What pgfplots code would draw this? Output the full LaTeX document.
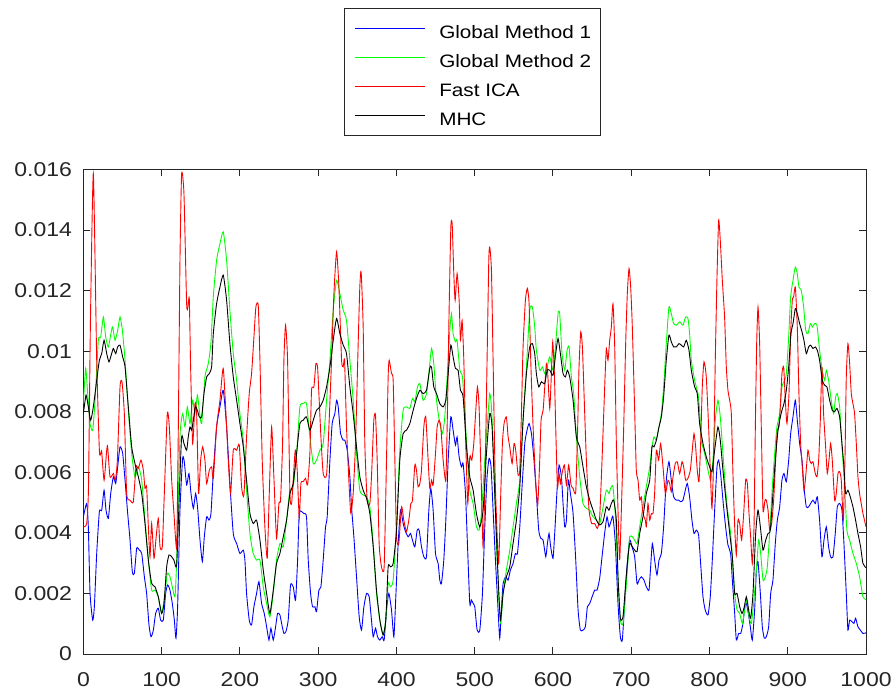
\documentclass[border=0pt]{standalone}
\usepackage{pgfplots}
\pgfplotsset{compat=1.18}
\usepackage{fontspec}
\setmainfont{Liberation Sans}[FakeStretch=1.15]
\definecolor{axgray}{RGB}{38,38,38}
\begin{document}
\begin{tikzpicture}
\begin{axis}[name=ax, scale only axis, width=782.6bp, height=484.5bp,
  xmin=0, xmax=1000, ymin=0, ymax=0.016,
  xtick={0,100,200,300,400,500,600,700,800,900,1000},
  xticklabels={0,100,200,300,400,500,600,700,800,900,1000},
  ytick={0,0.002,0.004,0.006,0.008,0.010,0.012,0.014,0.016},
  yticklabels={0,0.002,0.004,0.006,0.008,0.01,0.012,0.014,0.016},
  scaled y ticks=false,
  tick align=inside, xtick pos=both, ytick pos=both,
  major tick length=7bp,
  axis line style={axgray, line width=1bp},
  every tick/.style={axgray, line width=1bp},
  tick label style={font=\fontsize{20bp}{24bp}\selectfont, text=axgray},
  /pgf/number format/assume math mode=true,
  yticklabel style={xshift=-8bp},
  xticklabel style={yshift=-15bp},
  legend cell align=left,
  legend image code/.code={\draw[#1,line width=1.4bp] (0bp,0bp) -- (70bp,0bp);},
  legend style={at={(0.4972,1.3327)}, anchor=north, draw=axgray, line width=0.8bp,
    font=\fontsize{18bp}{20bp}\selectfont, inner xsep=9bp, inner ysep=5.5bp,
    row sep=0bp, column sep=14bp,
    nodes={inner sep=0pt, text height=24.5bp, text depth=4.5bp}},
  every axis plot/.append style={line width=0.9bp, smooth, tension=0.35},
]
\addplot[color=blue] coordinates {
(0,0.00453)(4.2,0.00497)(6.3,0.00420)(8.5,0.00200)(11.9,0.00112)(14.0,0.00156)(17.0,0.00332)(20.4,0.00470)(23.4,0.00475)(26.4,0.00541)(28.9,0.00475)(31.9,0.00448)(34.9,0.00530)(38.3,0.00585)(41.3,0.00563)(43.8,0.00618)(46.8,0.00684)(50.2,0.00662)(53.2,0.00574)(56.6,0.00464)(59.6,0.00376)(62.5,0.00272)(65.1,0.00266)(68.1,0.00349)(71.5,0.00343)(74.5,0.00332)(77.9,0.00255)(80.8,0.00200)(83.8,0.00096)(86.4,0.00057)(89.4,0.00079)(92.3,0.00134)(95.7,0.00151)(98.7,0.00112)(102.1,0.00112)(105.1,0.00200)(107.7,0.00228)(110.6,0.00211)(113.6,0.00167)(116.2,0.00112)(118.3,0.00052)(120.4,0.00156)(123.4,0.00475)(126.8,0.00646)(128.9,0.00635)(131.9,0.00558)(134.9,0.00596)(137.5,0.00530)(140.5,0.00481)(143.4,0.00530)(146.0,0.00481)(149.0,0.00376)(152.0,0.00305)(154.5,0.00387)(157.5,0.00453)(160.5,0.00442)(163.0,0.00464)(166.0,0.00600)(170.2,0.00750)(174.5,0.00816)(178.7,0.00871)(183.0,0.00750)(187.2,0.00563)(191.5,0.00398)(195.8,0.00365)(200.0,0.00332)(204.3,0.00343)(206.4,0.00310)(208.5,0.00200)(211.9,0.00112)(214.9,0.00096)(217.9,0.00156)(221.3,0.00200)(224.3,0.00239)(227.7,0.00167)(231.1,0.00134)(234.1,0.00090)(237.1,0.00046)(239.6,0.00085)(242.6,0.00046)(245.6,0.00090)(248.1,0.00134)(251.1,0.00129)(254.1,0.00090)(256.2,0.00068)(258.8,0.00074)(261.7,0.00112)(264.7,0.00228)(268.1,0.00222)(271.1,0.00178)(273.7,0.00310)(275.8,0.00464)(278.8,0.00470)(281.7,0.00464)(285.1,0.00453)(287.3,0.00310)(290.3,0.00200)(292.8,0.00156)(295.8,0.00156)(297.9,0.00140)(300.9,0.00211)(303.5,0.00222)(306.4,0.00310)(309.4,0.00420)(311.5,0.00453)(315.0,0.00640)(317.9,0.00761)(321.3,0.00794)(323.5,0.00838)(325.6,0.00816)(328.6,0.00728)(332.0,0.00706)(334.1,0.00706)(337.1,0.00673)(340.5,0.00585)(342.6,0.00486)(345.6,0.00387)(349.0,0.00255)(352.4,0.00123)(355.4,0.00079)(358.4,0.00156)(361.8,0.00200)(365.2,0.00189)(368.1,0.00112)(370.3,0.00057)(373.3,0.00085)(375.8,0.00057)(378.8,0.00046)(381.8,0.00057)(384.3,0.00046)(387.3,0.00145)(390.3,0.00200)(393.7,0.00145)(396.7,0.00057)(399.2,0.00189)(402.2,0.00365)(405.2,0.00475)(408.6,0.00431)(411.6,0.00404)(415.0,0.00387)(418.0,0.00398)(420.5,0.00376)(423.5,0.00354)(426.5,0.00409)(429.0,0.00409)(432.0,0.00354)(435.0,0.00321)(438.4,0.00321)(441.4,0.00475)(443.9,0.00547)(446.9,0.00475)(449.9,0.00332)(453.3,0.00299)(455.4,0.00244)(457.5,0.00233)(460.5,0.00310)(463.1,0.00442)(466.1,0.00640)(469.5,0.00783)(472.4,0.00739)(475.4,0.00690)(477.5,0.00717)(480.1,0.00651)(483.1,0.00618)(485.2,0.00629)(488.2,0.00530)(490.7,0.00365)(493.7,0.00167)(495.8,0.00178)(498.0,0.00167)(500.1,0.00156)(503.1,0.00079)(506.5,0.00079)(509.9,0.00200)(512.9,0.00420)(515.8,0.00585)(518.4,0.00646)(520.9,0.00618)(523.5,0.00475)(526.5,0.00310)(529.9,0.00145)(532.0,0.00052)(534.1,0.00145)(536.3,0.00233)(539.7,0.00255)(542.7,0.00244)(545.6,0.00277)(549.0,0.00299)(552.0,0.00332)(554.6,0.00332)(557.6,0.00420)(560.5,0.00552)(564.0,0.00695)(566.9,0.00739)(569.5,0.00761)(572.5,0.00728)(575.4,0.00651)(578.8,0.00530)(581.8,0.00409)(584.4,0.00382)(587.4,0.00376)(590.8,0.00321)(592.9,0.00365)(595.0,0.00398)(597.1,0.00354)(600.1,0.00316)(602.7,0.00420)(605.2,0.00541)(607.8,0.00624)(610.8,0.00585)(612.9,0.00497)(615.0,0.00420)(617.2,0.00442)(619.7,0.00574)(622.3,0.00530)(625.7,0.00464)(629.1,0.00310)(632.1,0.00145)(635.0,0.00079)(638.4,0.00079)(641.4,0.00090)(644.0,0.00156)(647.0,0.00167)(650.0,0.00189)(653.3,0.00211)(656.3,0.00211)(659.7,0.00250)(662.7,0.00321)(666.1,0.00400)(669.1,0.00453)(671.6,0.00420)(674.6,0.00442)(676.7,0.00453)(679.7,0.00365)(683.1,0.00167)(686.1,0.00057)(688.6,0.00046)(691.6,0.00167)(694.6,0.00288)(698.0,0.00376)(701.0,0.00354)(704.4,0.00321)(707.4,0.00233)(709.9,0.00244)(712.9,0.00255)(716.3,0.00244)(719.3,0.00222)(722.7,0.00211)(724.8,0.00288)(727.0,0.00365)(729.9,0.00310)(732.9,0.00261)(735.5,0.00310)(738.5,0.00332)(741.4,0.00420)(744.8,0.00574)(748.2,0.00635)(751.2,0.00574)(754.2,0.00519)(757.6,0.00508)(760.6,0.00508)(763.1,0.00503)(766.1,0.00508)(769.1,0.00541)(771.7,0.00563)(774.6,0.00519)(777.6,0.00442)(780.2,0.00398)(783.2,0.00409)(786.1,0.00393)(788.7,0.00299)(791.7,0.00189)(794.6,0.00145)(798.1,0.00129)(801.0,0.00189)(803.6,0.00310)(806.6,0.00475)(809.6,0.00618)(811.7,0.00640)(814.2,0.00596)(817.2,0.00508)(820.6,0.00420)(823.6,0.00360)(827.0,0.00332)(829.2,0.00244)(832.2,0.00134)(834.3,0.00046)(837.3,0.00068)(839.9,0.00068)(842.8,0.00101)(845.0,0.00156)(847.1,0.00167)(849.6,0.00134)(852.2,0.00090)(854.7,0.00046)(857.7,0.00145)(859.9,0.00277)(862.0,0.00305)(865.0,0.00200)(867.5,0.00090)(870.1,0.00052)(872.6,0.00057)(875.6,0.00090)(878.2,0.00200)(881.1,0.00244)(884.1,0.00365)(886.7,0.00442)(889.7,0.00486)(892.6,0.00574)(895.2,0.00596)(898.2,0.00569)(901.2,0.00640)(903.7,0.00728)(906.7,0.00783)(909.7,0.00838)(912.2,0.00772)(915.2,0.00695)(918.2,0.00640)(920.7,0.00552)(923.7,0.00486)(926.7,0.00486)(929.2,0.00497)(932.2,0.00508)(935.2,0.00497)(937.8,0.00519)(940.7,0.00442)(943.7,0.00321)(946.3,0.00376)(949.3,0.00420)(952.2,0.00354)(954.8,0.00321)(957.8,0.00321)(960.7,0.00398)(963.3,0.00486)(966.3,0.00497)(969.3,0.00475)(971.8,0.00365)(974.8,0.00200)(976.9,0.00079)(979.1,0.00112)(982.0,0.00107)(984.6,0.00101)(986.7,0.00118)(989.7,0.00090)(992.7,0.00079)(996.1,0.00068)(1000,0.00070)
};
\addlegendentry{Global Method 1}
\addplot[color=green] coordinates {
(0,0.00827)(2.9,0.00943)(5.5,0.00860)(8.5,0.00761)(11.9,0.00739)(14.9,0.00838)(19.1,0.01036)(22.1,0.01047)(25.5,0.01113)(28.5,0.01047)(31.9,0.01014)(37.0,0.01080)(40.4,0.01036)(43.8,0.01069)(46.8,0.01113)(49.8,0.01069)(53.2,0.00970)(57.4,0.00805)(61.7,0.00662)(65.9,0.00585)(70.2,0.00618)(74.5,0.00574)(78.7,0.00442)(83.0,0.00310)(87.2,0.00211)(91.5,0.00211)(95.7,0.00189)(100.0,0.00134)(104.3,0.00200)(107.2,0.00266)(110.6,0.00255)(113.6,0.00222)(117.0,0.00189)(119.2,0.00310)(123.4,0.00717)(126.8,0.00794)(129.8,0.00750)(132.8,0.00816)(136.2,0.00761)(139.6,0.00838)(142.6,0.00794)(145.6,0.00855)(148.1,0.00805)(151.1,0.00761)(155.3,0.00915)(159.6,0.00959)(163.0,0.01030)(166.0,0.01180)(170.2,0.01300)(174.5,0.01355)(178.7,0.01394)(183.0,0.01300)(187.2,0.01135)(191.5,0.00992)(195.8,0.00904)(200.0,0.00794)(204.3,0.00706)(208.5,0.00541)(212.8,0.00398)(217.0,0.00332)(221.3,0.00310)(225.6,0.00310)(229.8,0.00222)(234.1,0.00167)(238.3,0.00123)(242.6,0.00200)(246.8,0.00310)(251.1,0.00365)(255.4,0.00354)(259.6,0.00442)(263.9,0.00541)(268.1,0.00552)(272.4,0.00662)(276.6,0.00816)(280.9,0.00827)(285.1,0.00827)(289.4,0.00717)(293.7,0.00629)(297.9,0.00640)(302.2,0.00673)(306.4,0.00695)(310.7,0.00838)(315.0,0.00970)(319.2,0.01135)(323.5,0.01234)(327.7,0.01190)(332.0,0.01135)(336.2,0.01102)(340.5,0.00970)(344.7,0.00838)(349.0,0.00662)(353.2,0.00541)(357.5,0.00525)(361.8,0.00519)(366.0,0.00486)(370.3,0.00365)(374.5,0.00200)(378.8,0.00112)(383.0,0.00063)(386.4,0.00112)(389.4,0.00233)(392.4,0.00222)(395.8,0.00244)(400.1,0.00420)(404.3,0.00673)(408.6,0.00805)(412.8,0.00816)(417.1,0.00811)(420.5,0.00844)(423.5,0.00833)(426.9,0.00882)(429.9,0.00893)(434.1,0.00838)(438.4,0.00860)(441.4,0.00926)(444.8,0.01009)(447.7,0.00959)(451.2,0.00838)(455.4,0.00761)(458.8,0.00728)(461.8,0.00783)(464.8,0.00915)(468.2,0.01069)(470.3,0.01124)(472.4,0.01058)(475.4,0.01031)(477.5,0.01036)(481.0,0.00937)(484.4,0.00915)(487.3,0.00794)(490.3,0.00673)(493.7,0.00541)(498.0,0.00497)(502.2,0.00420)(505.6,0.00409)(508.6,0.00464)(512.9,0.00640)(517.1,0.00794)(519.2,0.00860)(521.4,0.00816)(524.4,0.00640)(527.8,0.00365)(531.2,0.00167)(533.3,0.00101)(536.3,0.00200)(540.5,0.00277)(544.8,0.00343)(549.0,0.00420)(553.3,0.00497)(557.6,0.00574)(561.8,0.00772)(566.1,0.00948)(570.3,0.01135)(573.7,0.01146)(576.7,0.01080)(578.8,0.01003)(583.1,0.00937)(586.5,0.00948)(589.5,0.00926)(592.5,0.00948)(595.9,0.00981)(600.1,0.00937)(603.5,0.01025)(606.5,0.01124)(608.6,0.01124)(611.6,0.00992)(615.0,0.00937)(618.0,0.01003)(620.6,0.01014)(623.5,0.00915)(626.5,0.00860)(629.9,0.00717)(634.2,0.00585)(638.4,0.00497)(642.7,0.00481)(647.0,0.00475)(651.2,0.00453)(655.5,0.00442)(659.7,0.00431)(664.0,0.00485)(668.2,0.00541)(671.6,0.00530)(673.7,0.00547)(676.7,0.00552)(680.1,0.00442)(683.1,0.00255)(686.1,0.00112)(689.5,0.00101)(692.9,0.00200)(695.9,0.00310)(698.0,0.00387)(701.4,0.00387)(704.4,0.00376)(707.4,0.00365)(710.8,0.00420)(715.0,0.00486)(719.3,0.00552)(723.6,0.00618)(726.5,0.00684)(729.1,0.00717)(732.1,0.00706)(735.5,0.00750)(738.5,0.00794)(741.4,0.00882)(744.8,0.01025)(748.2,0.01146)(751.2,0.01124)(754.2,0.01091)(757.6,0.01086)(761.9,0.01097)(766.1,0.01086)(769.5,0.01113)(772.5,0.01108)(774.6,0.01058)(776.8,0.00970)(781.0,0.00904)(785.3,0.00860)(787.4,0.00805)(789.5,0.00706)(793.8,0.00662)(798.1,0.00607)(801.5,0.00574)(804.4,0.00640)(807.4,0.00772)(810.8,0.00838)(813.8,0.00783)(817.2,0.00662)(820.6,0.00541)(823.6,0.00464)(827.0,0.00398)(829.2,0.00320)(832.2,0.00200)(835.2,0.00145)(838.6,0.00134)(842.0,0.00101)(845.0,0.00145)(847.9,0.00178)(850.5,0.00123)(853.5,0.00101)(856.4,0.00167)(859.9,0.00277)(862.8,0.00376)(865.4,0.00332)(868.4,0.00244)(871.4,0.00255)(873.9,0.00288)(876.9,0.00398)(880.3,0.00552)(883.3,0.00662)(886.2,0.00750)(889.7,0.00794)(892.6,0.00882)(895.2,0.00899)(898.2,0.00926)(901.2,0.01047)(903.7,0.01179)(906.7,0.01234)(909.7,0.01278)(912.2,0.01256)(914.3,0.01212)(917.3,0.01201)(920.3,0.01146)(922.9,0.01069)(925.8,0.01058)(928.8,0.01091)(931.4,0.01080)(934.3,0.01091)(937.3,0.01086)(940.7,0.01003)(944.1,0.00937)(947.1,0.00904)(949.3,0.00937)(952.2,0.00904)(955.6,0.00838)(958.6,0.00794)(961.2,0.00849)(963.3,0.00860)(966.3,0.00816)(969.3,0.00684)(972.7,0.00552)(975.6,0.00409)(979.1,0.00376)(983.3,0.00332)(987.6,0.00299)(991.8,0.00255)(996.1,0.00189)(1000,0.00180)
};
\addlegendentry{Global Method 2}
\addplot[color=red] coordinates {
(0,0.00420)(4.2,0.00431)(6.5,0.00550)(9.0,0.01100)(12.7,0.01586)(17.0,0.00970)(20.4,0.00673)(22.1,0.00662)(23.4,0.00668)(26.4,0.00574)(29.8,0.00673)(31.0,0.00684)(34.0,0.00585)(38.3,0.00596)(40.8,0.00574)(43.4,0.00640)(46.8,0.00882)(49.3,0.00899)(52.3,0.00794)(55.3,0.00530)(59.6,0.00508)(63.8,0.00503)(67.2,0.00618)(70.2,0.00613)(73.6,0.00640)(76.6,0.00607)(78.7,0.00547)(80.8,0.00552)(83.0,0.00420)(85.1,0.00321)(87.2,0.00431)(90.2,0.00316)(92.8,0.00382)(95.7,0.00448)(97.9,0.00354)(100.8,0.00354)(103.4,0.00530)(107.2,0.00794)(109.8,0.00750)(112.8,0.00574)(115.7,0.00464)(119.2,0.00354)(121.3,0.00750)(123.4,0.01300)(125.5,0.01586)(128.5,0.01520)(131.9,0.01157)(133.6,0.01146)(135.3,0.01174)(137.0,0.00948)(139.6,0.00695)(142.6,0.00827)(144.7,0.00794)(147.2,0.00530)(149.8,0.00640)(152.4,0.00684)(155.3,0.00640)(157.5,0.00563)(160.9,0.00607)(163.9,0.00618)(166.0,0.00580)(170.2,0.00750)(174.5,0.00838)(178.7,0.00943)(183.0,0.00750)(185.1,0.00640)(188.1,0.00530)(191.5,0.00673)(195.8,0.00673)(199.2,0.00690)(202.1,0.00552)(205.1,0.00525)(208.5,0.00717)(211.9,0.00860)(214.9,0.00926)(217.9,0.01047)(220.4,0.01146)(223.4,0.01152)(225.6,0.00970)(228.5,0.00640)(231.9,0.00420)(234.9,0.00316)(237.5,0.00530)(240.5,0.00750)(243.4,0.00585)(246.8,0.00382)(249.8,0.00497)(251.9,0.00508)(254.5,0.00695)(256.2,0.00970)(258.3,0.01086)(260.9,0.00970)(263.9,0.00530)(266.0,0.00497)(268.1,0.00574)(270.7,0.00673)(273.2,0.00607)(275.8,0.00448)(277.9,0.00563)(280.9,0.00569)(283.9,0.00580)(286.4,0.00558)(289.4,0.00662)(291.5,0.00871)(294.5,0.00882)(297.1,0.00959)(299.2,0.00948)(300.9,0.00860)(303.5,0.00717)(306.4,0.00596)(310.7,0.00591)(313.7,0.00750)(317.1,0.00970)(320.1,0.01190)(323.5,0.01328)(326.5,0.01212)(329.9,0.00970)(332.0,0.00948)(333.7,0.00970)(336.2,0.00750)(339.2,0.00574)(341.7,0.00464)(344.7,0.00530)(347.7,0.00695)(351.1,0.01025)(353.2,0.01212)(354.9,0.01262)(357.5,0.01080)(359.6,0.00695)(362.6,0.00508)(366.0,0.00497)(368.1,0.00585)(371.1,0.00772)(373.2,0.00789)(375.4,0.00640)(377.9,0.00365)(380.9,0.00288)(384.3,0.00288)(387.3,0.00640)(389.4,0.00915)(390.7,0.00970)(393.7,0.00926)(395.8,0.00904)(398.0,0.00640)(400.1,0.00387)(403.0,0.00365)(406.5,0.00486)(409.4,0.00442)(412.8,0.00404)(415.8,0.00442)(418.4,0.00497)(420.5,0.00508)(423.5,0.00624)(425.6,0.00607)(427.7,0.00552)(429.9,0.00563)(432.0,0.00607)(435.0,0.00750)(437.5,0.00783)(440.5,0.00640)(442.6,0.00547)(444.8,0.00574)(446.9,0.00558)(449.9,0.00662)(452.0,0.00750)(454.6,0.00772)(456.7,0.00750)(459.7,0.00640)(463.1,0.00574)(465.2,0.00805)(467.3,0.01135)(469.5,0.01410)(471.2,0.01421)(473.3,0.01256)(475.0,0.01168)(477.5,0.01256)(480.1,0.01168)(481.8,0.01036)(483.9,0.01102)(486.1,0.00970)(488.6,0.00695)(491.2,0.00497)(493.7,0.00651)(496.3,0.00640)(498.8,0.00695)(501.4,0.00805)(503.5,0.00882)(505.6,0.00816)(508.2,0.00585)(510.7,0.00354)(513.3,0.00585)(515.8,0.00970)(518.0,0.01300)(519.2,0.01344)(521.4,0.01267)(523.5,0.00970)(526.1,0.00585)(528.6,0.00398)(530.7,0.00299)(533.3,0.00530)(535.4,0.00695)(537.5,0.00761)(540.5,0.00783)(542.7,0.00717)(544.8,0.00684)(547.8,0.00629)(550.3,0.00695)(552.4,0.00673)(555.4,0.00591)(557.6,0.00607)(559.7,0.00794)(561.8,0.01014)(564.8,0.01168)(567.3,0.01207)(569.5,0.01157)(572.0,0.00937)(574.6,0.00750)(577.6,0.00585)(580.5,0.00492)(583.1,0.00640)(584.8,0.00772)(587.4,0.00805)(589.5,0.00882)(591.6,0.00959)(593.3,0.00926)(595.9,0.00811)(598.0,0.00926)(599.7,0.01031)(601.8,0.00926)(603.5,0.00750)(605.7,0.00552)(607.8,0.00596)(609.5,0.00563)(611.6,0.00596)(614.6,0.00624)(617.2,0.00558)(620.1,0.00624)(623.1,0.00558)(625.7,0.00547)(629.1,0.00536)(631.6,0.00750)(633.3,0.00948)(635.5,0.01064)(637.6,0.01014)(639.7,0.00860)(642.7,0.00640)(646.1,0.00475)(649.5,0.00431)(653.3,0.00431)(656.7,0.00415)(659.7,0.00453)(662.7,0.00640)(666.1,0.00882)(668.2,0.01009)(670.3,0.00970)(672.5,0.01036)(674.6,0.01080)(676.7,0.01157)(678.9,0.01014)(681.0,0.00695)(683.1,0.00475)(685.2,0.00310)(687.4,0.00475)(690.4,0.00750)(692.9,0.01025)(695.0,0.01190)(697.2,0.01273)(699.3,0.01212)(701.4,0.01080)(704.4,0.00805)(706.5,0.00607)(708.7,0.00574)(710.8,0.00508)(712.9,0.00519)(715.0,0.00464)(718.0,0.00442)(719.3,0.00420)(721.4,0.00497)(723.6,0.00442)(725.7,0.00464)(727.8,0.00464)(729.9,0.00530)(732.1,0.00673)(735.0,0.00640)(737.6,0.00695)(740.6,0.00618)(743.6,0.00530)(747.0,0.00574)(749.1,0.00563)(751.2,0.00536)(753.4,0.00585)(756.3,0.00629)(758.9,0.00635)(761.9,0.00596)(764.9,0.00635)(767.0,0.00618)(769.5,0.00574)(772.5,0.00580)(775.5,0.00607)(778.0,0.00673)(780.2,0.00728)(782.3,0.00684)(784.4,0.00607)(786.6,0.00569)(788.7,0.00695)(790.8,0.00882)(793.0,0.00965)(795.9,0.00915)(798.9,0.00750)(801.5,0.00574)(803.2,0.00481)(805.3,0.00640)(807.4,0.00970)(809.6,0.01245)(811.7,0.01432)(813.8,0.01366)(816.4,0.01234)(819.3,0.01113)(821.5,0.00948)(823.6,0.00871)(825.8,0.00838)(827.9,0.00794)(830.1,0.00585)(832.2,0.00420)(834.3,0.00327)(836.4,0.00442)(838.6,0.00431)(841.1,0.00376)(843.7,0.00464)(846.2,0.00574)(848.4,0.00563)(850.5,0.00464)(852.6,0.00387)(854.7,0.00299)(856.9,0.00420)(858.6,0.00750)(860.3,0.01025)(862.0,0.01146)(864.1,0.01025)(866.2,0.00750)(868.4,0.00475)(870.9,0.00508)(872.6,0.00508)(874.8,0.00475)(876.9,0.00409)(879.4,0.00431)(882.0,0.00508)(884.5,0.00640)(886.7,0.00739)(888.8,0.00750)(890.5,0.00816)(892.6,0.00926)(894.8,0.00948)(896.9,0.00838)(899.0,0.00761)(901.6,0.00860)(903.7,0.01058)(905.8,0.01168)(907.5,0.01179)(909.7,0.01212)(912.2,0.01080)(914.3,0.00860)(916.5,0.00695)(918.6,0.00618)(920.7,0.00541)(922.9,0.00585)(925.8,0.00673)(928.0,0.00640)(930.1,0.00629)(932.2,0.00635)(935.2,0.00596)(937.3,0.00585)(939.5,0.00640)(941.6,0.00772)(943.7,0.00948)(945.8,0.00794)(948.4,0.00684)(950.5,0.00596)(952.7,0.00640)(954.8,0.00695)(956.9,0.00640)(959.9,0.00508)(962.0,0.00530)(964.2,0.00596)(966.3,0.00602)(968.4,0.00574)(971.0,0.00442)(973.1,0.00640)(974.8,0.00915)(976.9,0.01025)(979.1,0.00959)(981.2,0.00860)(983.3,0.00827)(985.4,0.00794)(987.6,0.00695)(989.7,0.00585)(991.8,0.00530)(993.9,0.00497)(996.1,0.00464)(1000,0.00420)
};
\addlegendentry{Fast ICA}
\addplot[color=black] coordinates {
(0,0.00794)(3.4,0.00855)(6.3,0.00816)(9.3,0.00772)(12.7,0.00816)(17.0,0.00904)(20.4,0.00970)(23.4,0.00992)(26.4,0.01036)(29.8,0.00992)(32.7,0.00965)(36.1,0.00992)(38.3,0.01009)(41.3,0.00992)(43.8,0.01014)(46.8,0.01020)(50.2,0.00981)(53.2,0.00948)(57.4,0.00816)(61.7,0.00684)(65.9,0.00629)(70.2,0.00585)(74.5,0.00530)(78.7,0.00431)(83.0,0.00310)(87.2,0.00233)(91.5,0.00222)(95.7,0.00189)(100.0,0.00134)(103.0,0.00167)(106.4,0.00288)(109.4,0.00327)(112.8,0.00321)(115.7,0.00310)(119.2,0.00294)(122.6,0.00530)(125.5,0.00717)(128.5,0.00695)(131.9,0.00673)(134.0,0.00717)(136.2,0.00750)(138.3,0.00739)(140.5,0.00772)(143.0,0.00816)(145.6,0.00805)(148.1,0.00783)(151.1,0.00783)(154.1,0.00860)(157.5,0.00915)(160.9,0.00926)(163.9,0.00950)(166.0,0.01058)(170.2,0.01157)(174.5,0.01212)(178.7,0.01251)(183.0,0.01168)(187.2,0.01025)(191.5,0.00915)(195.8,0.00838)(200.0,0.00761)(204.3,0.00684)(208.5,0.00574)(212.8,0.00464)(217.0,0.00431)(221.3,0.00442)(225.6,0.00376)(229.8,0.00277)(234.1,0.00200)(238.3,0.00134)(242.6,0.00211)(246.8,0.00299)(251.1,0.00332)(255.4,0.00387)(259.6,0.00442)(263.9,0.00530)(268.1,0.00563)(272.4,0.00662)(276.6,0.00761)(280.9,0.00772)(285.1,0.00783)(289.4,0.00739)(293.7,0.00772)(297.9,0.00805)(302.2,0.00816)(306.4,0.00838)(310.7,0.00882)(315.0,0.00948)(319.2,0.01036)(323.5,0.01108)(327.7,0.01058)(332.0,0.01020)(336.2,0.00992)(340.5,0.00882)(344.7,0.00794)(349.0,0.00684)(353.2,0.00585)(357.5,0.00541)(361.8,0.00514)(366.0,0.00464)(370.3,0.00354)(374.5,0.00211)(378.8,0.00112)(383.0,0.00063)(386.4,0.00112)(389.4,0.00288)(392.4,0.00288)(395.8,0.00299)(400.1,0.00409)(404.3,0.00640)(408.6,0.00728)(412.8,0.00739)(417.1,0.00761)(421.4,0.00805)(425.6,0.00844)(429.9,0.00871)(434.1,0.00860)(438.4,0.00871)(442.6,0.00943)(444.8,0.00948)(447.7,0.00882)(451.2,0.00860)(455.4,0.00827)(459.7,0.00816)(463.1,0.00838)(466.1,0.00926)(469.5,0.01020)(472.4,0.00981)(475.4,0.00943)(478.8,0.00937)(481.8,0.00871)(485.2,0.00849)(489.5,0.00684)(493.7,0.00585)(498.0,0.00541)(502.2,0.00464)(506.5,0.00420)(510.7,0.00475)(515.0,0.00662)(519.2,0.00794)(522.2,0.00750)(525.6,0.00530)(529.9,0.00255)(532.9,0.00112)(536.3,0.00200)(540.5,0.00255)(544.8,0.00288)(549.0,0.00365)(553.3,0.00442)(557.6,0.00552)(561.8,0.00772)(566.1,0.00926)(570.3,0.01014)(573.7,0.01025)(576.7,0.00992)(578.8,0.00926)(581.8,0.00882)(585.2,0.00899)(589.5,0.00893)(592.5,0.00937)(595.9,0.00937)(600.1,0.00921)(603.5,0.00992)(606.5,0.01042)(609.5,0.00992)(612.9,0.00926)(615.9,0.00915)(618.4,0.00937)(621.4,0.00915)(625.7,0.00838)(629.9,0.00717)(634.2,0.00684)(638.4,0.00618)(642.7,0.00552)(647.0,0.00508)(651.2,0.00475)(655.5,0.00442)(659.7,0.00426)(664.0,0.00437)(668.2,0.00486)(671.6,0.00475)(674.6,0.00497)(677.6,0.00508)(681.0,0.00442)(683.1,0.00255)(686.1,0.00118)(689.5,0.00123)(692.9,0.00233)(695.9,0.00321)(698.0,0.00365)(701.4,0.00354)(704.4,0.00343)(707.4,0.00338)(710.8,0.00398)(715.0,0.00453)(719.3,0.00530)(723.6,0.00574)(726.5,0.00684)(729.1,0.00684)(732.1,0.00706)(735.5,0.00750)(738.5,0.00783)(741.4,0.00849)(744.8,0.00970)(748.2,0.01053)(751.2,0.01031)(754.2,0.01014)(757.6,0.01014)(761.0,0.01025)(764.0,0.01020)(767.0,0.01014)(770.4,0.01036)(773.8,0.01003)(776.8,0.00937)(781.0,0.00882)(784.4,0.00860)(787.4,0.00761)(791.7,0.00695)(795.9,0.00651)(800.2,0.00618)(803.2,0.00602)(806.6,0.00673)(810.8,0.00750)(813.8,0.00706)(817.2,0.00607)(821.5,0.00497)(825.8,0.00400)(829.2,0.00320)(832.2,0.00200)(835.2,0.00200)(838.6,0.00156)(841.6,0.00134)(844.5,0.00156)(847.1,0.00189)(850.1,0.00145)(852.6,0.00118)(855.6,0.00200)(859.0,0.00398)(862.0,0.00475)(865.0,0.00420)(868.4,0.00343)(871.8,0.00376)(874.8,0.00398)(877.7,0.00409)(881.1,0.00530)(884.1,0.00640)(887.1,0.00728)(889.7,0.00772)(892.6,0.00805)(895.2,0.00827)(898.2,0.00871)(901.2,0.00948)(904.1,0.01058)(906.7,0.01091)(909.7,0.01141)(912.2,0.01124)(915.2,0.01091)(918.2,0.01064)(920.7,0.01036)(923.7,0.00992)(926.7,0.01014)(929.2,0.01020)(932.2,0.01009)(935.2,0.01014)(937.8,0.01003)(940.7,0.00970)(944.1,0.00904)(947.1,0.00888)(950.1,0.00882)(953.5,0.00838)(956.9,0.00805)(959.9,0.00800)(962.9,0.00811)(966.3,0.00783)(969.3,0.00695)(971.8,0.00618)(973.9,0.00530)(976.9,0.00541)(979.9,0.00519)(983.3,0.00486)(986.7,0.00442)(989.7,0.00398)(993.1,0.00354)(996.1,0.00299)(1000,0.00285)
};
\addlegendentry{MHC}
\end{axis}
\pgfresetboundingbox
\path ([xshift=-83.4bp,yshift=-41bp]ax.south west) rectangle ([xshift=27bp,yshift=169.5bp]ax.north east);
\end{tikzpicture}
\end{document}
